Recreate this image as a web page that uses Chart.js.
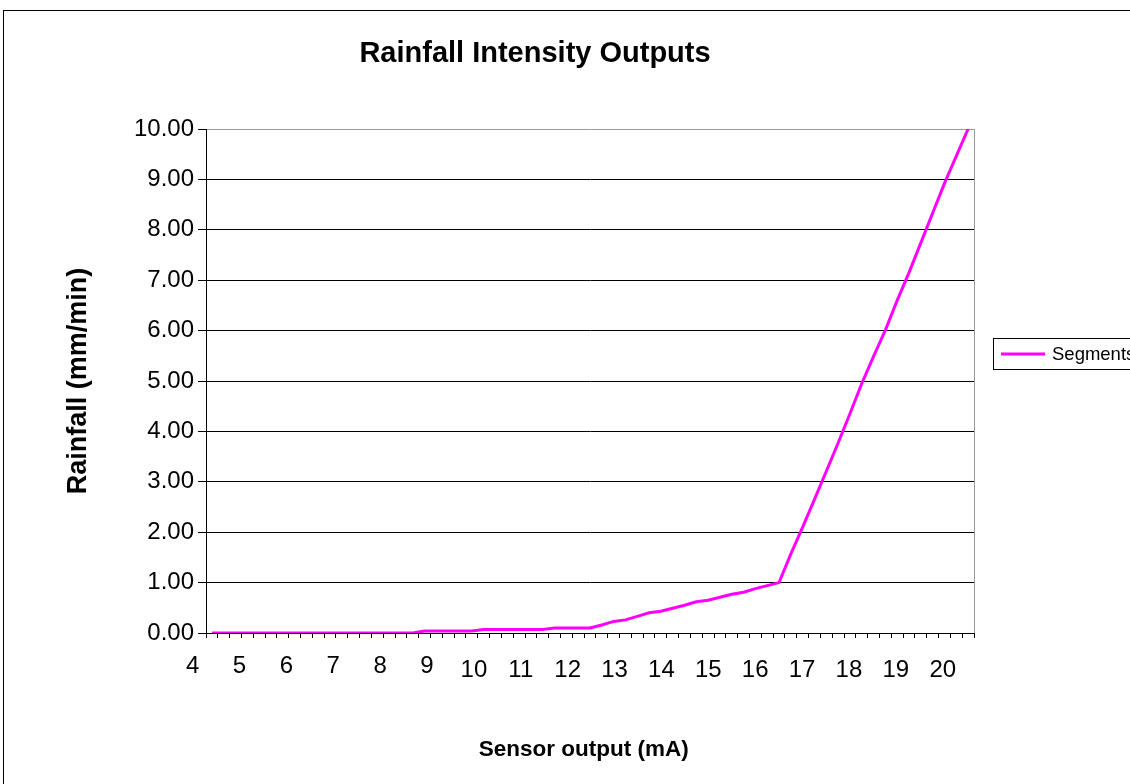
<!DOCTYPE html>
<html><head><meta charset="utf-8">
<style>html,body{margin:0;padding:0;background:#fff;overflow:hidden}canvas{display:block}</style>
<script src="https://cdn.jsdelivr.net/npm/chart.js@4.4.1/dist/chart.umd.min.js"></script>
</head><body>
<canvas id="c" width="1130" height="784"></canvas>
<script>
const chartTitle = 'Rainfall Intensity Outputs';
const xAxisTitle = 'Sensor output (mA)';
const yAxisTitle = 'Rainfall (mm/min)';
const seriesName = 'Segments';

// 65 sensor-output segments (mA, segment centres)
const categories = [
  '4.375','4.625','4.875','5.125','5.375','5.625','5.875','6.125','6.375','6.625',
  '6.875','7.125','7.375','7.625','7.875','8.125','8.375','8.625','8.875','9.125',
  '9.375','9.625','9.875','10.125','10.375','10.625','10.875','11.125','11.375','11.625',
  '11.875','12.125','12.375','12.625','12.875','13.125','13.375','13.625','13.875','14.125',
  '14.375','14.625','14.875','15.125','15.375','15.625','15.875','16.125','16.375','16.625',
  '16.875','17.125','17.375','17.625','17.875','18.125','18.375','18.625','18.875','19.125',
  '19.375','19.625','19.875','20.125','20.375'
];
// rainfall (mm/min) per segment
const rainfall = [
  0,0,0,0,0,0,0,0,0,0,
  0,0,0,0,0,0,0,0,0.04,0.04,
  0.04,0.04,0.04,0.07,0.07,0.07,0.07,0.07,0.07,0.10,
  0.10,0.10,0.10,0.16,0.23,0.26,0.33,0.40,0.43,0.49,
  0.55,0.62,0.65,0.71,0.77,0.81,0.88,0.94,1.00,1.57,
  2.10,2.65,3.21,3.77,4.35,4.95,5.49,6.01,6.60,7.15,
  7.74,8.33,8.92,9.46,10.00
];
const xTickLabels = [4,5,6,7,8,9,10,11,12,13,14,15,16,17,18,19,20];
const yTickValues = [0,1,2,3,4,5,6,7,8,9,10];

const FONT = "'Liberation Sans', Arial, sans-serif";

const decor = {
  id: 'decor',
  beforeDraw(chart) {
    const ctx = chart.ctx;
    ctx.save();
    ctx.fillStyle = '#fff';
    ctx.fillRect(0, 0, chart.width, chart.height);
    ctx.restore();
  },
  beforeDatasetsDraw(chart) {
    const {ctx, chartArea: a} = chart;
    ctx.save();
    ctx.strokeStyle = '#999';
    ctx.lineWidth = 1;
    ctx.beginPath();
    ctx.moveTo(Math.round(a.right) + 0.5, a.top);
    ctx.lineTo(Math.round(a.right) + 0.5, a.bottom);
    ctx.stroke();
    ctx.restore();
  },
  afterDraw(chart) {
    const ctx = chart.ctx;
    ctx.save();
    // outer chart border
    ctx.strokeStyle = '#000';
    ctx.lineWidth = 1;
    ctx.strokeRect(3.5, 10.5, 1400, 1000);
    // title
    ctx.fillStyle = '#000';
    ctx.font = 'bold 29px ' + FONT;
    ctx.textAlign = 'center';
    ctx.textBaseline = 'middle';
    ctx.fillText(chartTitle, 535, 54);
    // legend
    const ds = chart.data.datasets[0];
    ctx.fillStyle = '#fff';
    ctx.fillRect(993.5, 338.5, 300, 31);
    ctx.strokeStyle = '#000';
    ctx.lineWidth = 1;
    ctx.strokeRect(993.5, 338.5, 300, 31);
    ctx.strokeStyle = ds.borderColor;
    ctx.lineWidth = 3;
    ctx.beginPath();
    ctx.moveTo(1001, 354);
    ctx.lineTo(1045, 354);
    ctx.stroke();
    ctx.fillStyle = '#000';
    ctx.font = '18.5px ' + FONT;
    ctx.textAlign = 'left';
    ctx.fillText(ds.label, 1052, 355);
    ctx.restore();
  }
};

new Chart(document.getElementById('c'), {
  type: 'line',
  data: {
    labels: categories,
    datasets: [{
      label: seriesName,
      data: rainfall,
      borderColor: '#FF00FF',
      backgroundColor: '#FF00FF',
      borderWidth: 3,
      pointRadius: 0,
      tension: 0,
      fill: false,
      xAxisID: 'x',
      yAxisID: 'y'
    }]
  },
  options: {
    responsive: false,
    animation: false,
    devicePixelRatio: 1,
    layout: { padding: { left: 62, right: 156, top: 129, bottom: 21 } },
    plugins: { legend: { display: false }, title: { display: false }, tooltip: { enabled: false } },
    scales: {
      x: {
        type: 'category',
        position: 'bottom',
        offset: true,
        grid: { offset: true, drawOnChartArea: false, drawTicks: true, tickLength: 5, color: '#000', lineWidth: 1 },
        border: { display: true, color: '#000', width: 1 },
        ticks: { display: false },
        afterFit(s) { s.height = 6; }
      },
      x2: {
        type: 'linear',
        position: 'bottom',
        min: 4.2857,
        max: 20.667,
        grid: { display: false, drawTicks: false },
        border: { display: false },
        afterBuildTicks(s) { s.ticks = xTickLabels.map(v => ({ value: v })); },
        ticks: {
          autoSkip: false,
          maxRotation: 0,
          padding: 16.6,
          color: '#000',
          callback: v => String(v),
          font: ctx => ({ family: FONT, size: 24, lineHeight: (ctx.tick && ctx.tick.value < 10) ? 0.867 : 1.2 })
        },
        title: { display: true, text: xAxisTitle + '  ', color: '#000', padding: 0,
                 font: { family: FONT, size: 22.5, weight: 'bold', lineHeight: 1.2 } },
        afterFit(s) { s.height = 124; }
      },
      y: {
        type: 'linear',
        position: 'left',
        min: 0,
        max: 10,
        afterBuildTicks(s) { s.ticks = yTickValues.map(v => ({ value: v })); },
        grid: {
          color: c => (c.tick && c.tick.value === 10) ? '#999' : '#000',
          tickColor: '#000',
          lineWidth: 1,
          drawTicks: true,
          tickLength: 8
        },
        border: { display: true, color: '#000', width: 1 },
        ticks: {
          padding: 4,
          color: '#000',
          font: { family: FONT, size: 24 },
          callback: v => Number(v).toFixed(2)
        },
        title: { display: true, text: yAxisTitle, color: '#000', padding: 0,
                 font: { family: FONT, size: 27, weight: 'bold', lineHeight: 1.2 } },
        afterFit(s) { s.width = 144; }
      }
    }
  },
  plugins: [decor]
});
</script>
</body></html>
